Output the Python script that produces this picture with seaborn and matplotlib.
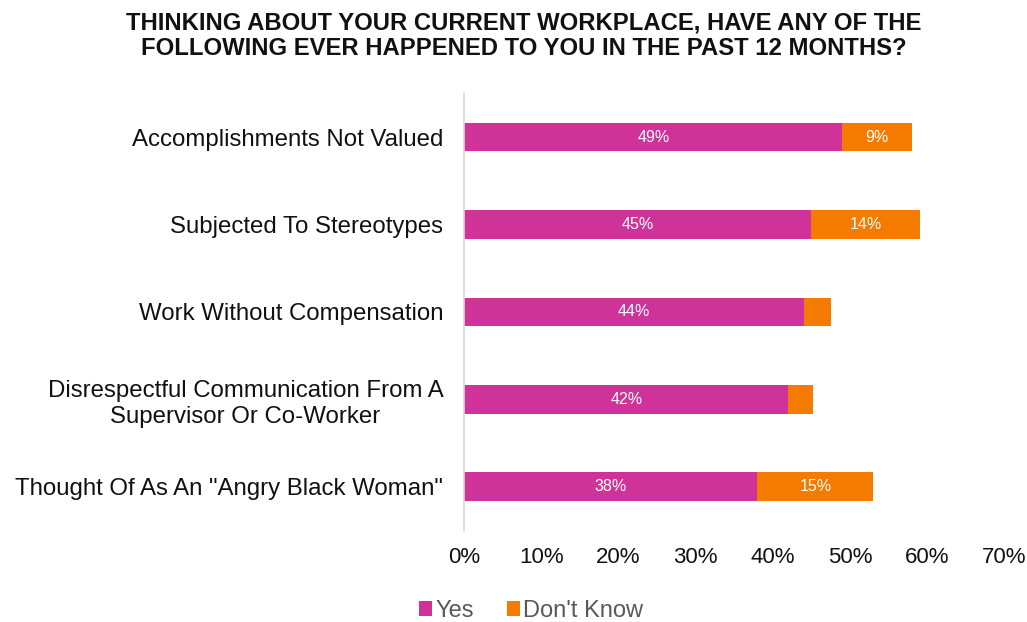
import matplotlib
matplotlib.use("Agg")
import matplotlib.pyplot as plt
import seaborn as sns
import pandas as pd
from matplotlib.patches import Patch

categories = [
    "Accomplishments Not Valued",
    "Subjected To Stereotypes",
    "Work Without Compensation",
    "Disrespectful Communication From A\nSupervisor Or Co-Worker",
    "Thought Of As An \"Angry Black Woman\"",
]
yes_vals = [49, 45, 44, 42, 38]
dk_vals = [9, 14, 3.5, 3.2, 15]
series_names = ["Yes", "Don't Know"]
xticks = [0, 10, 20, 30, 40, 50, 60, 70]
title = "THINKING ABOUT YOUR CURRENT WORKPLACE, HAVE ANY OF THE\nFOLLOWING EVER HAPPENED TO YOU IN THE PAST 12 MONTHS?"

c_yes = "#CF3399"
c_dk = "#F47A00"

sns.set_theme(style="white")
plt.rcParams['font.family'] = ['Liberation Sans', 'DejaVu Sans']

df = pd.DataFrame({"cat": categories, "yes": yes_vals, "dk": dk_vals})
df["total"] = df["yes"] + df["dk"]

fig = plt.figure(figsize=(10.27, 6.22), dpi=100)
ax = fig.add_axes([0.452, 0.147, 0.526, 0.703])

sns.barplot(data=df, y="cat", x="total", color=c_dk, orient="h", width=0.33,
            ax=ax, saturation=1, linewidth=0)
sns.barplot(data=df, y="cat", x="yes", color=c_yes, orient="h", width=0.33,
            ax=ax, saturation=1, linewidth=0)

for i, (y, d) in enumerate(zip(yes_vals, dk_vals)):
    ax.text(y / 2, i, f"{y:.0f}%", ha="center", va="center", color="white", fontsize=11.5)
    if d >= 5:
        ax.text(y + d / 2, i, f"{d:.0f}%", ha="center", va="center", color="white", fontsize=11.5)

ax.set_xlim(0, 70)
ax.set_ylim(4.5, -0.5)
ax.set_xticks(xticks)
ax.set_xticklabels([f"{t}%" for t in xticks], fontsize=16, color="#111111")
ax.tick_params(axis="x", length=0, pad=12)
ax.tick_params(axis="y", length=0, pad=15, labelsize=17.3, labelcolor="#111111")
ax.set_xlabel("")
ax.set_ylabel("")
for s in ["top", "right", "bottom"]:
    ax.spines[s].set_visible(False)
ax.spines["left"].set_color("#D9D9D9")
ax.spines["left"].set_linewidth(1.2)
for lbl in ax.get_yticklabels():
    lbl.set_multialignment("center")
    lbl.set_linespacing(1.22)

fig.text(0.51, 0.981, title, ha="center", va="top", fontsize=17.2, fontweight="bold",
         color="#111111", linespacing=1.12)

handles = [Patch(facecolor=c_yes, edgecolor="none"), Patch(facecolor=c_dk, edgecolor="none")]
leg = fig.legend(handles, series_names, loc="center", bbox_to_anchor=(0.517, 0.018),
                 ncol=2, frameon=False, fontsize=17, handlelength=0.55, handleheight=0.55,
                 handletextpad=0.15, columnspacing=1.4)
for t in leg.get_texts():
    t.set_color("#595959")

fig.savefig("out.png", dpi=100)
